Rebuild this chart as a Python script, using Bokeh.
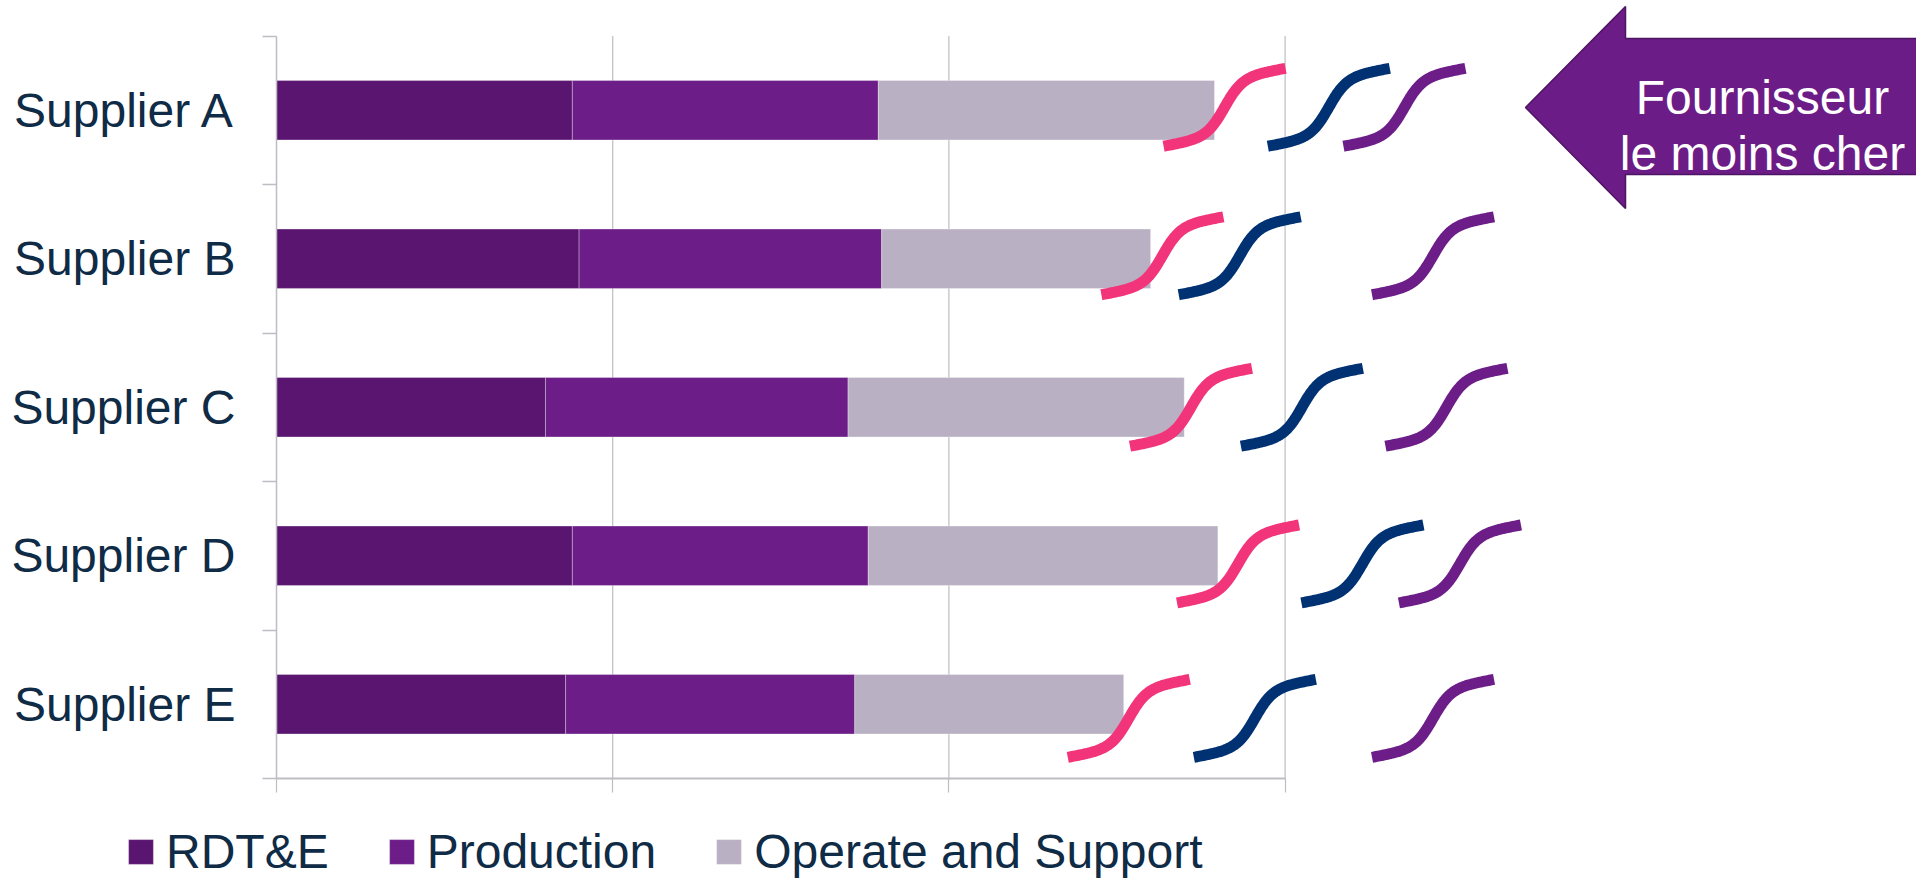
import numpy as np
from bokeh.plotting import figure
from bokeh.models import ColumnDataSource, Range1d, LinearAxis, FixedTicker
from bokeh.core.properties import value
from bokeh.embed import file_html
from bokeh.resources import INLINE

# ---------------- data ----------------
suppliers = ["Supplier A", "Supplier B", "Supplier C", "Supplier D", "Supplier E"]
rdte = [88, 90, 80, 88, 86]
production = [91, 90, 90, 88, 86]
operate_support = [100, 80, 100, 104, 80]
series_labels = ["RDT&E", "Production", "Operate and Support"]
grid_values = [0, 100, 200, 300]

# S-shaped estimate markers, three per supplier (x centre in chart units)
squiggle_pink = [282, 263.5, 272, 286, 253.5]
squiggle_navy = [313, 286.5, 305, 323, 291]
squiggle_purple = [335.5, 344, 348, 352, 344]

callout_lines = ["Fournisseur", "le moins cher"]

# ---------------- layout / style ----------------
W, H = 1916, 881
X0_PX, PX_PER_X = 276.0, 3.362      # pixel of x=0, pixels per unit
Y0_PX, PX_PER_Y = 778.0, 148.5      # pixel of y=0 (from top), pixels per category
FONT = "Liberation Sans"
TEXT_COLOR = "#0F2B46"
AXIS_COLOR = "#BDBDC3"
BAR_COLORS = ["#5A1570", "#6C1D87", "#B9B0C4"]
SQ_COLORS = ["#F2357A", "#003172", "#6C1D87"]
SQ_DY = [0.02, 0.02, 0.0, -0.055, -0.095]   # small vertical nudges of markers


def px_x(px):
    return (px - X0_PX) / PX_PER_X


def px_y(py):
    return (Y0_PX - py) / PX_PER_Y


n = len(suppliers)
y_pos = [n - 0.5 - i for i in range(n)]

p = figure(width=W, height=H, output_backend="svg", toolbar_location=None,
           x_axis_type=None, y_axis_type=None,
           x_range=Range1d(px_x(0), px_x(W)), y_range=Range1d(px_y(H), px_y(0)),
           min_border_left=0, min_border_right=0, min_border_top=0, min_border_bottom=0)
p.outline_line_color = None
p.background_fill_color = "white"
p.border_fill_color = "white"

# vertical gridlines
p.segment(x0=grid_values[1:], y0=[0] * 3, x1=grid_values[1:], y1=[n] * 3,
          line_color=AXIS_COLOR, line_width=1.2)

# stacked bars
src = ColumnDataSource(dict(y=y_pos, rdte=rdte, prod=production, os=operate_support))
p.hbar_stack(["rdte", "prod", "os"], y="y", height=0.4, color=BAR_COLORS, source=src,
             legend_label=series_labels, line_color="white", line_alpha=0.3, line_width=1)

# S-shaped markers
dxs = np.linspace(-61, 61, 81)
dys = 0.18 * dxs + 28.05 * np.tanh(dxs / 18.0)
for centers, col in zip([squiggle_pink, squiggle_navy, squiggle_purple], SQ_COLORS):
    xs = [list(c + dxs / PX_PER_X) for c in centers]
    ys = [list(y_pos[i] + SQ_DY[i] + dys / PX_PER_Y) for i in range(n)]
    p.multi_line(xs, ys, line_color=col, line_width=11, line_cap="butt", line_join="round")

# callout arrow
arrow_px = [(1525, 107), (1625, 6), (1625, 38), (1921, 38), (1921, 174),
            (1625, 174), (1625, 208)]
p.patch([px_x(a) for a, b in arrow_px], [px_y(b) for a, b in arrow_px],
        fill_color="#6B1C86", line_color="#4E1463", line_width=1.5)
p.text(x=[px_x(1762)] * 2, y=[px_y(97), px_y(153)], text=callout_lines,
       text_font=value(FONT), text_font_size=value("48px"), text_color="white",
       text_align="center", text_baseline="alphabetic")

# axes
yaxis = LinearAxis(fixed_location=0, bounds=(0, n),
                   ticker=FixedTicker(ticks=y_pos, minor_ticks=list(range(n + 1))),
                   major_label_overrides={y: s for y, s in zip(y_pos, suppliers)})
yaxis.major_tick_in = 0
yaxis.major_tick_out = 0
yaxis.minor_tick_in = 0
yaxis.minor_tick_out = 14
yaxis.minor_tick_line_color = AXIS_COLOR
yaxis.minor_tick_line_width = 1.5
yaxis.axis_line_color = AXIS_COLOR
yaxis.axis_line_width = 1.5
yaxis.major_label_standoff = 27
yaxis.major_label_text_font = FONT
yaxis.major_label_text_font_size = "48px"
yaxis.major_label_text_color = TEXT_COLOR
p.add_layout(yaxis, "left")

xaxis = LinearAxis(fixed_location=0, bounds=(0, grid_values[-1]),
                   ticker=FixedTicker(ticks=grid_values, minor_ticks=[]),
                   major_label_overrides={v: "" for v in grid_values})
xaxis.major_tick_in = 0
xaxis.major_tick_out = 14
xaxis.major_tick_line_color = AXIS_COLOR
xaxis.major_tick_line_width = 1.2
xaxis.axis_line_color = AXIS_COLOR
xaxis.axis_line_width = 2
xaxis.major_label_text_font_size = "0px"
p.add_layout(xaxis, "below")

# legend
lg = p.legend[0]
lg.orientation = "horizontal"
lg.location = (125, 2)
lg.padding = 0
lg.margin = 0
lg.spacing = 57
lg.glyph_width = 31
lg.glyph_height = 31
lg.label_standoff = 10
lg.label_text_font = FONT
lg.label_text_font_size = "48px"
lg.label_text_color = TEXT_COLOR
lg.border_line_color = None
lg.background_fill_alpha = 0

open("out.html", "w").write(file_html(p, INLINE))
